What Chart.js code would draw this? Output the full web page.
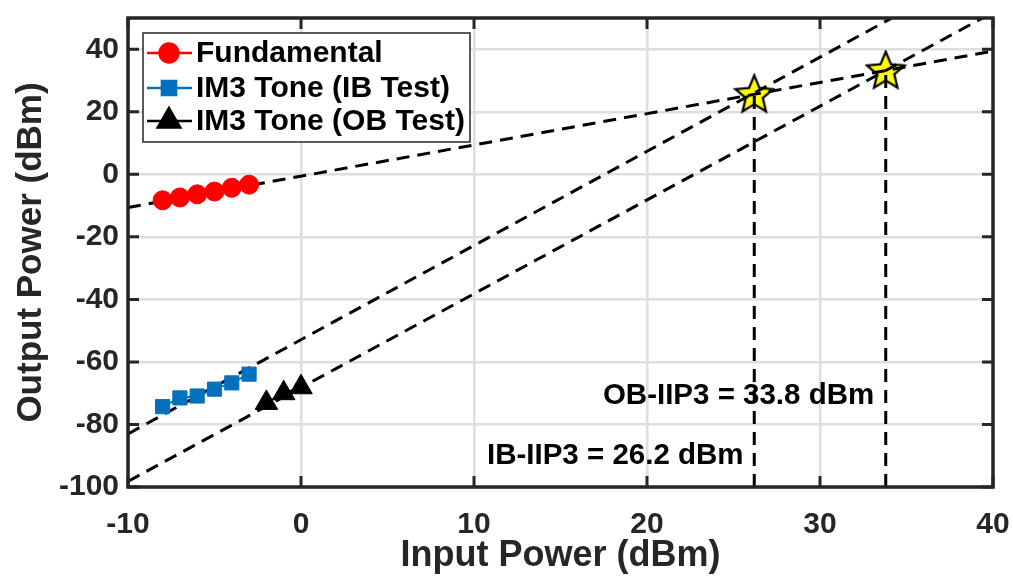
<!DOCTYPE html>
<html>
<head>
<meta charset="utf-8">
<script src="https://cdn.jsdelivr.net/npm/chart.js@4.4.1/dist/chart.umd.min.js"></script>
<style>
  html, body { margin: 0; padding: 0; background: #fff; }
  #wrap { width: 1013px; height: 578px; }
</style>
</head>
<body>
<div id="wrap"><canvas id="iip3"></canvas></div>
<script>
// measured points
const fundX = [-8, -7, -6, -5, -4, -3];
const fundY = [-8.3, -7.4, -6.4, -5.5, -4.3, -3.3];
const im3IbX = [-8, -7, -6, -5, -4, -3];
const im3IbY = [-74.3, -71.5, -70.9, -68.7, -66.7, -63.9];
const im3ObX = [-2, -1, 0];
const im3ObY = [-73.1, -70.0, -68.1];

// extrapolated fit lines (endpoints)
const fundFitX = [-10, 40];
const fundFitY = [-10.6, 39.4];
const ibFitX = [-10, 40];
const ibFitY = [-83.0, 67.6];
const obFitX = [-10, 40];
const obFitY = [-98.2, 51.8];

// intercept points
const iip3X = [26.2, 33.8];
const iip3Y = [25.6, 33.2];

const xTicks = [-10, 0, 10, 20, 30, 40];
const yTicks = [-100, -80, -60, -40, -20, 0, 20, 40];

const legendNames = ['Fundamental', 'IM3 Tone (IB Test)', 'IM3 Tone (OB Test)'];
const notes = [
  { text: 'OB-IIP3 = 33.8 dBm', x: 17.45, y: -70.9 },
  { text: 'IB-IIP3 = 26.2 dBm', x: 10.75, y: -89.9 }
];

const FONT = '"Liberation Sans", Arial, sans-serif';
const AXIS = '#262626';

function pts(xs, ys) { return xs.map((x, i) => ({ x: x, y: ys[i] })); }

// filled yellow star for the intercepts
function makeStar(r) {
  const c = document.createElement('canvas');
  const s = Math.ceil(r * 2 + 8);
  c.width = s; c.height = s;
  const g = c.getContext('2d');
  g.beginPath();
  for (let i = 0; i < 10; i++) {
    const rr = i % 2 == 0 ? r : r * 0.45;
    const a = -Math.PI / 2 + i * Math.PI / 5;
    const px = s / 2 + rr * Math.cos(a), py = s / 2 + 1 + rr * Math.sin(a);
    if (i == 0) g.moveTo(px, py); else g.lineTo(px, py);
  }
  g.closePath();
  g.lineWidth = 4.5;
  g.lineJoin = 'miter';
  g.strokeStyle = '#000';
  g.stroke();
  g.fillStyle = '#ffff00';
  g.fill();
  return c;
}
const star = makeStar(17);

const dash = { borderColor: '#000', borderWidth: 3, borderDash: [13, 8], pointRadius: 0, fill: false, showLine: true };

const boxPlugin = {
  id: 'box',
  afterDatasetsDraw(chart) {
    const ctx = chart.ctx, a = chart.chartArea;
    const xs = chart.scales.x, ys = chart.scales.y;
    ctx.save();
    // notes
    ctx.font = 'bold 29.5px ' + FONT;
    ctx.fillStyle = '#000';
    ctx.textBaseline = 'middle';
    ctx.textAlign = 'left';
    notes.forEach(n => ctx.fillText(n.text, xs.getPixelForValue(n.x), ys.getPixelForValue(n.y)));
    // inner tick marks
    ctx.strokeStyle = AXIS;
    ctx.lineWidth = 3;
    ctx.beginPath();
    xTicks.forEach(v => {
      const px = xs.getPixelForValue(v);
      ctx.moveTo(px, a.bottom); ctx.lineTo(px, a.bottom - 11);
      ctx.moveTo(px, a.top); ctx.lineTo(px, a.top + 11);
    });
    yTicks.forEach(v => {
      const py = ys.getPixelForValue(v);
      ctx.moveTo(a.left, py); ctx.lineTo(a.left + 11, py);
      ctx.moveTo(a.right, py); ctx.lineTo(a.right - 11, py);
    });
    ctx.stroke();
    ctx.lineWidth = 3.5;
    ctx.strokeRect(a.left, a.top, a.right - a.left, a.bottom - a.top);

    // legend
    const lx = a.left + 15, ly = a.top + 15, lw = 327, lh = 109;
    ctx.fillStyle = '#fff';
    ctx.fillRect(lx, ly, lw, lh);
    ctx.lineWidth = 1.5;
    ctx.strokeStyle = '#262626';
    ctx.strokeRect(lx, ly, lw, lh);
    const rows = [20, 55, 88];
    const ds = chart.data.datasets;
    ctx.font = 'bold 30px ' + FONT;
    ctx.textBaseline = 'middle';
    legendNames.forEach((name, i) => {
      const d = ds[i];
      const y = ly + rows[i];
      ctx.strokeStyle = d.borderColor;
      ctx.lineWidth = 2.5;
      ctx.beginPath();
      ctx.moveTo(lx + 4, y); ctx.lineTo(lx + 49, y);
      ctx.stroke();
      Chart.helpers.drawPoint(ctx, { pointStyle: d.pointStyle, radius: d.pointRadius, borderWidth: 1 }, lx + 26, y);
      ctx.fillStyle = d.pointBackgroundColor;
      ctx.strokeStyle = d.pointBorderColor;
      ctx.fill();
      ctx.fillStyle = '#000';
      ctx.fillText(name, lx + 53, y + 1);
    });
    ctx.restore();
  }
};

new Chart(document.getElementById('iip3'), {
  type: 'scatter',
  data: {
    datasets: [
      { data: pts(fundX, fundY), borderColor: '#ff0000', borderWidth: 2, showLine: true,
        pointStyle: 'circle', pointRadius: 9.5, pointBackgroundColor: '#ff0000', pointBorderColor: '#ff0000', pointBorderWidth: 1 },
      { data: pts(im3IbX, im3IbY), borderColor: '#0072bd', borderWidth: 2, showLine: true,
        pointStyle: 'rect', pointRadius: 10, pointBackgroundColor: '#0072bd', pointBorderColor: '#0072bd', pointBorderWidth: 1 },
      { data: pts(im3ObX, im3ObY), borderColor: '#000', borderWidth: 2, showLine: true,
        pointStyle: 'triangle', pointRadius: 13, pointBackgroundColor: '#000', pointBorderColor: '#000', pointBorderWidth: 1 },
      Object.assign({ data: pts(fundFitX, fundFitY) }, dash),
      Object.assign({ data: pts(ibFitX, ibFitY) }, dash),
      Object.assign({ data: pts(obFitX, obFitY) }, dash),
      Object.assign({ data: pts([iip3X[0], iip3X[0]], [-100, iip3Y[0]]) }, dash),
      Object.assign({ data: pts([iip3X[1], iip3X[1]], [-100, iip3Y[1]]) }, dash),
      { data: pts(iip3X, iip3Y), showLine: false, pointStyle: star, pointRadius: 17 }
    ]
  },
  options: {
    responsive: true,
    maintainAspectRatio: false,
    animation: false,
    layout: { padding: { top: 12, right: 20, left: 0, bottom: 0 } },
    plugins: { legend: { display: false }, tooltip: { enabled: false } },
    scales: {
      x: {
        type: 'linear', min: -10, max: 40,
        afterBuildTicks: s => { s.ticks = xTicks.map(v => ({ value: v })); },
        afterFit: s => { s.height = 91; s.paddingLeft = 0; s.paddingRight = 0; },
        grid: { color: '#dedede', lineWidth: 2.5, drawTicks: false },
        border: { display: false },
        ticks: { color: AXIS, padding: 20, maxRotation: 0, font: { family: FONT, size: 30, weight: 'bold' } },
        title: { display: true, text: 'Input Power (dBm)', color: AXIS, padding: { top: 0, bottom: 0 },
                 font: { family: FONT, size: 36, weight: 'bold' } }
      },
      y: {
        type: 'linear', min: -100, max: 50,
        afterBuildTicks: s => { s.ticks = yTicks.map(v => ({ value: v })); },
        afterFit: s => { s.width = 128; s.paddingTop = 0; s.paddingBottom = 0; },
        grid: { color: '#dedede', lineWidth: 2.5, drawTicks: false },
        border: { display: false },
        ticks: { color: AXIS, padding: 9, font: { family: FONT, size: 30, weight: 'bold' } },
        title: { display: true, text: 'Output Power (dBm)', color: AXIS, padding: { top: 10, bottom: 0 },
                 font: { family: FONT, size: 35, weight: 'bold' } }
      }
    }
  },
  plugins: [boxPlugin]
});
</script>
</body>
</html>
